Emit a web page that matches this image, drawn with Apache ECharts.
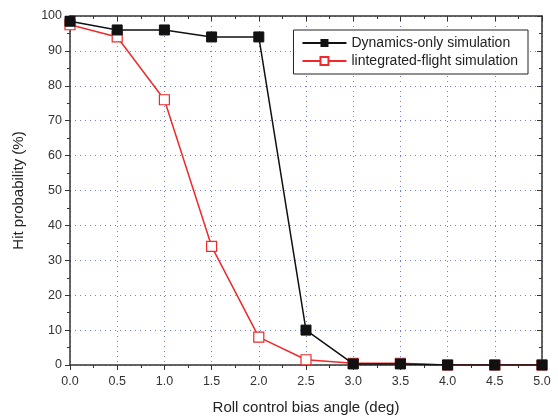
<!DOCTYPE html>
<html>
<head>
<meta charset="utf-8">
<script src="https://cdn.jsdelivr.net/npm/echarts@6/dist/echarts.min.js"></script>
<style>
  html, body { margin:0; padding:0; background:#fff; }
  #chart { width:558px; height:418px; }
</style>
</head>
<body>
<div id="chart"></div>
<script>
// ---- data ----
const angles = [0.0, 0.5, 1.0, 1.5, 2.0, 2.5, 3.0, 3.5, 4.0, 4.5, 5.0];
const dynamicsOnly = [98.5, 96, 96, 94, 94, 10, 0.3, 0.3, 0, 0, 0];
const integratedFlight = [97.5, 94, 76, 34, 8, 1.5, 0.5, 0.5, 0, 0, 0];
const seriesNames = ['Dynamics-only simulation', 'lintegrated-flight simulation'];

const axisColor = '#333';
const font = 'Liberation Sans, Arial, sans-serif';

const chart = echarts.init(document.getElementById('chart'));

const baseAxis = {
  axisLine:{ show:true, onZero:false, lineStyle:{ color:axisColor, width:1.5 } },
  axisTick:{ show:true, inside:false, length:5, lineStyle:{ color:axisColor } },
  minorTick:{ show:true, splitNumber:2, length:3, lineStyle:{ color:axisColor } },
};

chart.setOption({
  backgroundColor:'#fff',
  animation:false,
  grid:{ left:70, right:16, top:16, bottom:53, containLabel:false, outerBoundsMode:'none' },
  legend:{
    right:30, top:30,
    orient:'vertical',
    backgroundColor:'#fff',
    borderColor:'#222', borderWidth:1,
    padding:[6, 10, 6, 8],
    itemGap:4,
    itemWidth:44, itemHeight:10,
    textStyle:{ fontFamily:font, fontSize:14, color:'#222' },
    data: seriesNames
  },
  xAxis:[
    Object.assign({}, baseAxis, {
      type:'value', min:0, max:5, interval:0.5,
      axisLabel:{ formatter: v => v.toFixed(1), fontFamily:font, fontSize:12.5, color:axisColor, margin:10 },
      splitLine:{ show:true, lineStyle:{ color:'#6b7fcc', type:[1,4], width:1 } },
      name:'Roll control bias angle (deg)',
      nameLocation:'middle', nameGap:35,
      nameTextStyle:{ fontFamily:font, fontSize:15, color:'#222' }
    }),
    Object.assign({}, baseAxis, {
      type:'value', min:0, max:5, interval:0.5, position:'top',
      axisTick:{ show:true, inside:true, length:5, lineStyle:{ color:axisColor } },
      minorTick:{ show:true, splitNumber:2, length:3, lineStyle:{ color:axisColor } },
      axisLabel:{ show:false }, splitLine:{ show:false }
    })
  ],
  yAxis:[
    Object.assign({}, baseAxis, {
      type:'value', min:0, max:100, interval:10,
      axisLabel:{ fontFamily:font, fontSize:12.5, color:axisColor, margin:8 },
      splitLine:{ show:true, lineStyle:{ color:'#6b7fcc', type:[1,4], width:1 } },
      name:'Hit probability (%)',
      nameLocation:'middle', nameGap:44,
      nameTextStyle:{ fontFamily:font, fontSize:15, color:'#222' }
    }),
    Object.assign({}, baseAxis, {
      type:'value', min:0, max:100, interval:10, position:'right',
      axisTick:{ show:true, inside:true, length:5, lineStyle:{ color:axisColor } },
      minorTick:{ show:true, splitNumber:2, length:3, lineStyle:{ color:axisColor } },
      axisLabel:{ show:false }, splitLine:{ show:false }
    })
  ],
  series:[
    {
      name: seriesNames[1],
      type:'line',
      data: angles.map((a, i) => [a, integratedFlight[i]]),
      symbol:'rect', symbolSize:10,
      lineStyle:{ color:'#ee2a2a', width:1.5 },
      itemStyle:{ color:'#fff', borderColor:'#ee2a2a', borderWidth:1.2 },
      z:2
    },
    {
      name: seriesNames[0],
      type:'line',
      data: angles.map((a, i) => [a, dynamicsOnly[i]]),
      symbol:'rect', symbolSize:10,
      lineStyle:{ color:'#111', width:1.5 },
      itemStyle:{ color:'#111', borderColor:'#111' },
      z:3
    }
  ]
});
</script>
</body>
</html>
